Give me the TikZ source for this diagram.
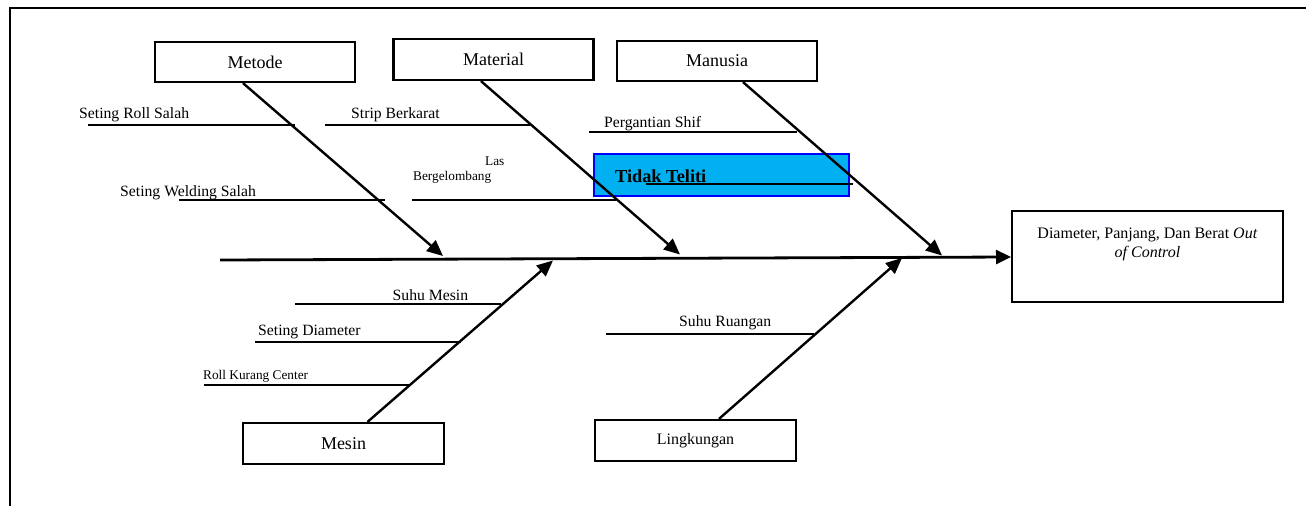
\documentclass[tikz,border=0pt]{standalone}
\usepackage{fontspec}
\setmainfont{Liberation Serif}
\usetikzlibrary{arrows.meta,calc}
\definecolor{tcyan}{RGB}{0,176,240}
\definecolor{tblue}{RGB}{0,0,255}
\tikzset{
  catbox/.style={draw=black,line width=2.2pt,minimum width=200pt,minimum height=40pt,inner sep=0pt,font=\fontsize{18}{20}\selectfont},
  bone/.style={line width=2.4pt,-{Triangle[length=16pt,width=14pt]}},
  cause/.style={line width=2.2pt},
  clabel/.style={inner sep=0pt,anchor=base west,font=\fontsize{15.7}{18}\selectfont},
  slabel/.style={inner sep=0pt,anchor=base west,font=\fontsize{13.3}{15}\selectfont},
}
\begin{document}
\begin{tikzpicture}[x=1pt,y=-1pt]
\useasboundingbox (0,0) rectangle (1306,506);
% frame
\draw[line width=2.2pt] (10,506) -- (10,8) -- (1306,8);

% category boxes
\node[catbox] (metode) at (255,62) {Metode};
\node[catbox,minimum height=41pt] (material) at (493.5,59.5) {Material};
\node[catbox] (manusia) at (717,61) {Manusia};
\node[catbox,minimum width=201pt,minimum height=41pt] (mesin) at (343.5,443.5) {\raisebox{-4pt}{Mesin}};
\node[catbox,minimum width=201pt,minimum height=41pt,font=\fontsize{16}{18}\selectfont] (lingkungan) at (695.5,440.5) {Lingkungan};

% effect box
\node[draw=black,line width=2.2pt,minimum width=271pt,minimum height=91pt,inner sep=0pt] (effect) at (1147.5,256.5) {};
\node[inner sep=0pt,align=center,font=\fontsize{16}{19.5}\selectfont,anchor=north] (effecttxt) at (1147.5,227.5) {Diameter, Panjang, Dan Berat \textit{Out}\\\textit{of Control}};

% highlighted box
\node[draw=tblue,fill=tcyan,line width=1.5pt,minimum width=255pt,minimum height=42pt,inner sep=0pt] (tidakbox) at (721.5,175) {};
\node[inner sep=0pt,anchor=base west,font=\bfseries\fontsize{18.3}{20}\selectfont] (tidak) at (615,182.7) {Tidak Teliti};

% spine
\coordinate (spineL) at (220,260);
\coordinate (head) at (1011,257);
\draw[line width=2.8pt,-{Triangle[length=15pt,width=14pt]}] (spineL) -- (head);

% arrow tips on spine
\coordinate (tMetode) at (443,256);
\coordinate (tMaterial) at (680,254.5);
\coordinate (tManusia) at (942,255.5);
\coordinate (tMesin) at (553,260.5);
\coordinate (tLing) at (902,258);

\draw[bone] ([xshift=-12pt]metode.south) -- (tMetode);
\draw[bone] ([xshift=-12.5pt]material.south) -- (tMaterial);
\draw[bone] ([xshift=26pt]manusia.south) -- (tManusia);
\draw[bone] ([xshift=24pt]mesin.north) -- (tMesin);
\draw[bone] ([xshift=23.5pt]lingkungan.north) -- (tLing);

% causes - top
\node[clabel] (c1) at (79,118) {Seting Roll Salah};
\coordinate (c1a) at (87.5,124.7); \coordinate (c1b) at (294.6,124.7);
\draw[cause] (c1a) -- (c1b);

\node[clabel] (c2) at (351,118) {Strip Berkarat};
\coordinate (c2a) at (325,124.7); \coordinate (c2b) at (530,124.7);
\draw[cause] (c2a) -- (c2b);

\node[clabel] (c3) at (604,127) {Pergantian Shif};
\coordinate (c3a) at (589,132); \coordinate (c3b) at (797,132);
\draw[cause] (c3a) -- (c3b);

\node[clabel] (c4) at (120,196.5) {Seting Welding Salah};
\coordinate (c4a) at (179,200); \coordinate (c4b) at (385,200);
\draw[cause] (c4a) -- (c4b);

\node[slabel] (c5a) at (485,165.5) {Las};
\node[slabel] (c5b) at (413,180.5) {Bergelombang};
\coordinate (c5l) at (412,200); \coordinate (c5r) at (616,200);
\draw[cause] (c5l) -- (c5r);

\coordinate (c6a) at (646,184); \coordinate (c6b) at (853,184);
\draw[cause] (c6a) -- (c6b);

% causes - bottom
\node[clabel] (c7) at (392.5,300) {Suhu Mesin};
\coordinate (c7a) at (295,304); \coordinate (c7b) at (501,304);
\draw[cause] (c7a) -- (c7b);

\node[clabel] (c8) at (258,335) {Seting Diameter};
\coordinate (c8a) at (255,342); \coordinate (c8b) at (461,342);
\draw[cause] (c8a) -- (c8b);

\node[slabel] (c9) at (203,379) {Roll Kurang Center};
\coordinate (c9a) at (204,385); \coordinate (c9b) at (411,385);
\draw[cause] (c9a) -- (c9b);

\node[clabel] (c10) at (679,326) {Suhu Ruangan};
\coordinate (c10a) at (606,334); \coordinate (c10b) at (814,334);
\draw[cause] (c10a) -- (c10b);
\end{tikzpicture}
\end{document}
